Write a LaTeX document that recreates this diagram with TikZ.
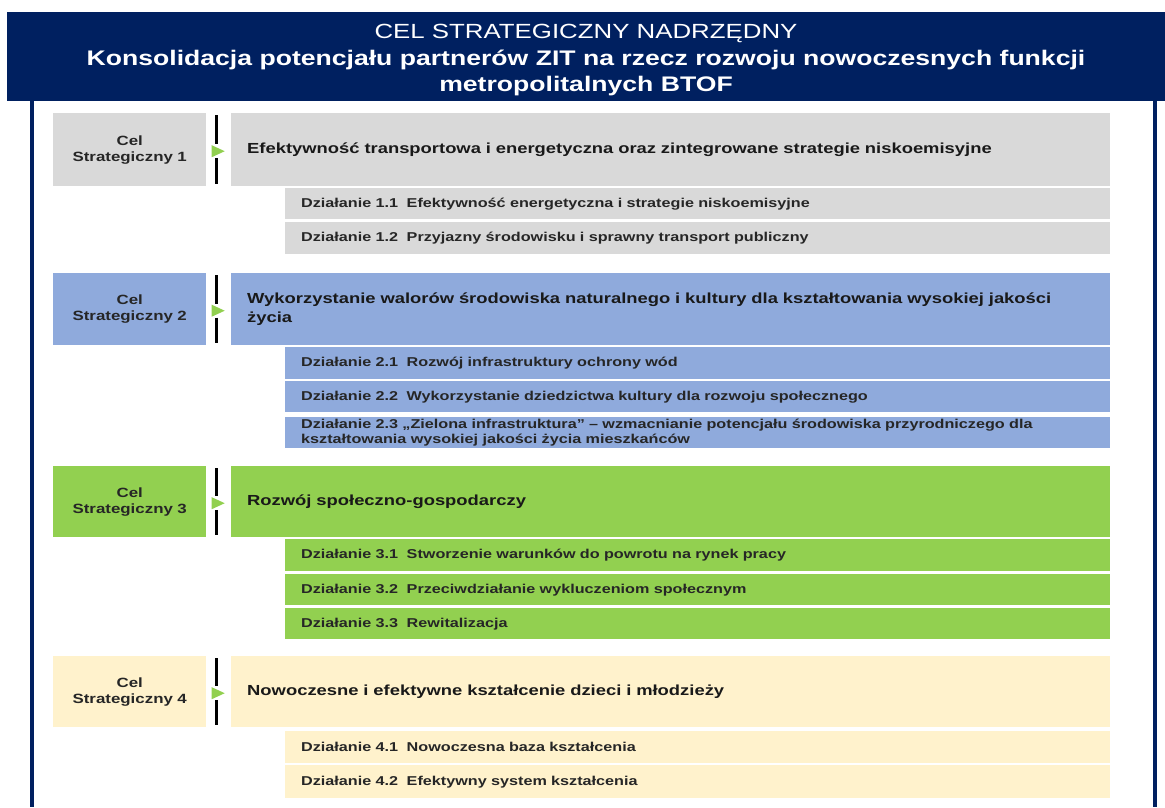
\documentclass[tikz,border=0pt]{standalone}
\usepackage{fontspec}
\setmainfont[FakeStretch=1.26]{Liberation Sans}
\usetikzlibrary{calc}
\definecolor{navy}{HTML}{002060}
\definecolor{cgray}{HTML}{D9D9D9}
\definecolor{cblue}{HTML}{8FAADC}
\definecolor{cgreen}{HTML}{92D050}
\definecolor{ccream}{HTML}{FFF2CC}
\definecolor{tri}{HTML}{92D050}
\tikzset{
  celbox/.style={rectangle, draw=none, anchor=north west, inner sep=0pt,
    minimum width=153pt, text width=153pt, align=center,
    font=\fontsize{13.4}{16}\selectfont\bfseries, text=black!85},
  mainbox/.style={rectangle, draw=none, anchor=north west, inner xsep=16pt, inner ysep=0pt,
    text width=847pt, align=left,
    font=\fontsize{14.6}{19}\selectfont\bfseries, text=black!90},
  subbox/.style={rectangle, draw=none, anchor=north west, inner xsep=16pt, inner ysep=0pt,
    text width=793pt, align=left,
    font=\fontsize{12.85}{15}\selectfont\bfseries, text=black!85},
  bar/.style={line width=3.5pt, black},
  trishape/.style={fill=tri, draw=none},
  navyline/.style={line width=3.5pt, navy},
}
\begin{document}
\begin{tikzpicture}[x=1pt,y=-1pt]
\useasboundingbox[fill=white] (0,0) rectangle (1165,807);
% header
\fill[navy] (7,12) rectangle (1165,101);
\node[align=center, text=white, inner sep=0pt, font=\fontsize{20.5}{26.5}\selectfont] (head) at (586,60.5)
  {CEL STRATEGICZNY NADRZĘDNY\\
   {\fontsize{21.1}{26.5}\selectfont\bfseries Konsolidacja potencjału partnerów ZIT na rzecz rozwoju nowoczesnych funkcji}\\
   {\fontsize{21.1}{26.5}\selectfont\bfseries metropolitalnych BTOF}};
\draw[navyline] (32,101) -- (32,807);
\draw[navyline] (1155,101) -- (1155,807);

% group 1
\node[celbox, fill=cgray, minimum height=73pt] (c1) at (53,113) {Cel\\Strategiczny 1};
\node[mainbox, fill=cgray, minimum height=73pt] (m1) at (231,113)
  {Efektywność transportowa i energetyczna oraz zintegrowane strategie niskoemisyjne};
\node[subbox, fill=cgray, minimum height=31pt] (s11) at (285,188)
  {Działanie 1.1 \ Efektywność energetyczna i strategie niskoemisyjne};
\node[subbox, fill=cgray, minimum height=32pt] (s12) at (285,222)
  {Działanie 1.2 \ Przyjazny środowisku i sprawny transport publiczny};

% group 2
\node[celbox, fill=cblue, minimum height=72pt] (c2) at (53,273) {Cel\\Strategiczny 2};
\node[mainbox, fill=cblue, minimum height=72pt] (m2) at (231,273)
  {Wykorzystanie walorów środowiska naturalnego i kultury dla kształtowania wysokiej jakości\\życia};
\node[subbox, fill=cblue, minimum height=32pt] (s21) at (285,347)
  {Działanie 2.1 \ Rozwój infrastruktury ochrony wód};
\node[subbox, fill=cblue, minimum height=31pt] (s22) at (285,381)
  {Działanie 2.2 \ Wykorzystanie dziedzictwa kultury dla rozwoju społecznego};
\node[subbox, fill=cblue, minimum height=31pt, font=\fontsize{12.85}{14.5}\selectfont\bfseries] (s23) at (285,417)
  {Działanie 2.3 „Zielona infrastruktura” – wzmacnianie potencjału środowiska przyrodniczego dla\\kształtowania wysokiej jakości życia mieszkańców};

% group 3
\node[celbox, fill=cgreen, minimum height=71pt] (c3) at (53,466) {Cel\\Strategiczny 3};
\node[mainbox, fill=cgreen, minimum height=71pt] (m3) at (231,466)
  {Rozwój społeczno-gospodarczy};
\node[subbox, fill=cgreen, minimum height=32pt] (s31) at (285,539)
  {Działanie 3.1 \ Stworzenie warunków do powrotu na rynek pracy};
\node[subbox, fill=cgreen, minimum height=31pt] (s32) at (285,574)
  {Działanie 3.2 \ Przeciwdziałanie wykluczeniom społecznym};
\node[subbox, fill=cgreen, minimum height=31pt] (s33) at (285,608)
  {Działanie 3.3 \ Rewitalizacja};

% group 4
\node[celbox, fill=ccream, minimum height=71pt] (c4) at (53,656) {Cel\\Strategiczny 4};
\node[mainbox, fill=ccream, minimum height=71pt] (m4) at (231,656)
  {Nowoczesne i efektywne kształcenie dzieci i młodzieży};
\node[subbox, fill=ccream, minimum height=32pt] (s41) at (285,731)
  {Działanie 4.1 \ Nowoczesna baza kształcenia};
\node[subbox, fill=ccream, minimum height=33pt] (s42) at (285,765)
  {Działanie 4.2 \ Efektywny system kształcenia};

% separators with arrowheads
\foreach \i in {1,2,3,4}{
  \coordinate (k\i) at ($(c\i.east)!0.42!(m\i.west)+(0,1.5)$);
  \draw[bar] ($(k\i |- c\i.north)+(0,2)$) -- ($(k\i)+(0,-7)$);
  \draw[bar] ($(k\i)+(0,7)$) -- ($(k\i |- c\i.south)+(0,-2)$);
  \fill[trishape] ($(k\i)+(-5,-6)$) -- ($(k\i)+(8,0)$) -- ($(k\i)+(-5,6)$) -- cycle;
}
\end{tikzpicture}
\end{document}
